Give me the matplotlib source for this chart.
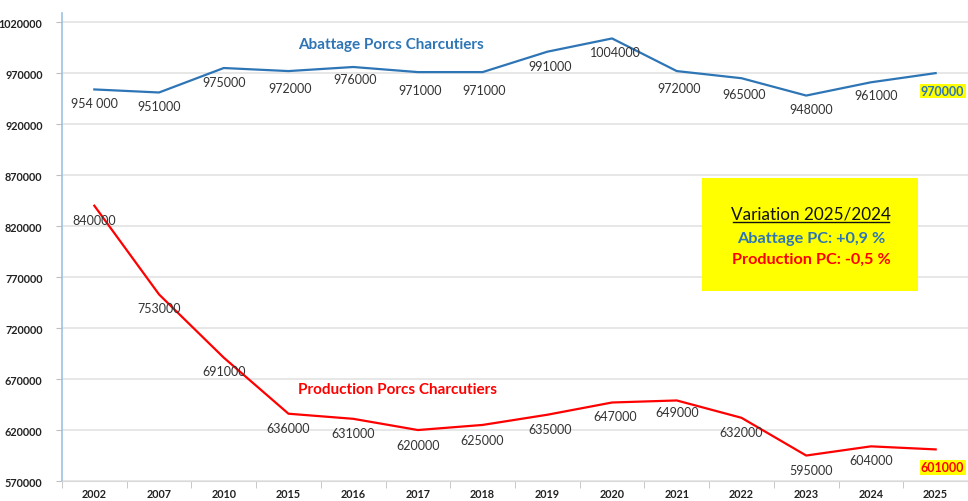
import matplotlib
matplotlib.use("Agg")
import matplotlib.pyplot as plt
import numpy as np

years = ["2002", "2007", "2010", "2015", "2016", "2017", "2018", "2019", "2020",
         "2021", "2022", "2023", "2024", "2025"]
abattage = [954000, 951000, 975000, 972000, 976000, 971000, 971000, 991000, 1004000,
            972000, 965000, 948000, 961000, 970000]
abattage_labels = ["954 000", "951000", "975000", "972000", "976000", "971000", "971000",
                   "991000", "1004000", "972000", "965000", "948000", "961000", "970000"]
production = [840000, 753000, 691000, 636000, 631000, 620000, 625000, 635000, 647000,
              649000, 632000, 595000, 604000, 601000]
yticks = list(range(570000, 1020001, 50000))

BLUE = "#2E75B6"
RED = "#FF0000"
plt.rcParams['font.family'] = ['Lato', 'DejaVu Sans']

fig = plt.figure(figsize=(9.68, 5.02), dpi=100)
ax = fig.add_axes([0.064, 0.0398, 0.936, 0.932])
x = np.arange(len(years))

ax.plot(x, abattage, color=BLUE, lw=1.6)
ax.plot(x, production, color=RED, lw=1.6)

ax.set_xlim(-0.5, len(years) - 0.5)
ax.set_ylim(570000, 1028800)
ax.set_yticks(yticks)
ax.set_yticklabels([str(v) for v in yticks], fontsize=7.8, fontweight='bold', color='#222222')
ax.set_xticks(x)
ax.set_xticklabels(years, fontsize=7.8, fontweight='bold', color='#222222')
ax.tick_params(axis='x', which='major', length=0, pad=5)
ax.set_xticks(np.arange(-0.5, len(years), 1), minor=True)
ax.tick_params(axis='x', which='minor', length=5, color='#BFBFBF', direction='out')
ax.tick_params(axis='y', length=4, color='#BFBFBF', pad=10)
ax.grid(axis='y', color='#E3E3E3', lw=1.2)
ax.set_axisbelow(True)
for s in ['top', 'right']:
    ax.spines[s].set_visible(False)
ax.spines['left'].set_color('#9DC3E0')
ax.spines['left'].set_linewidth(1.2)
ax.spines['bottom'].set_color('#D9D9D9')

# data labels: offsets in pixels
ab_off = [(0, -14), (0, -14), (0, -14), (2, -17), (2, -12), (2, -18), (2, -18),
          (3, -14), (3, -14), (2, -17), (3, -16), (5, -13), (5, -13), (7, -18)]
for i, (v, lab) in enumerate(zip(abattage, abattage_labels)):
    dx, dy = ab_off[i]
    if i == len(years) - 1:
        ax.annotate(lab, (x[i], v), xytext=(dx, dy), textcoords='offset pixels',
                    ha='center', va='center', fontsize=9, fontweight='bold', color=BLUE,
                    bbox=dict(boxstyle='square,pad=0.1', fc='#FFFF00', ec='none'))
    else:
        ax.annotate(lab, (x[i], v), xytext=(dx, dy), textcoords='offset pixels',
                    ha='center', va='center', fontsize=9, color='#333333')

pr_off = [(0, -14), (0, -14), (0, -13), (0, -14), (0, -14), (0, -15), (0, -15),
          (3, -14), (3, -14), (0, -12), (0, -14), (5, -14), (0, -14), (7, -18)]
for i, v in enumerate(production):
    dx, dy = pr_off[i]
    if i == len(years) - 1:
        ax.annotate(str(v), (x[i], v), xytext=(dx, dy), textcoords='offset pixels',
                    ha='center', va='center', fontsize=9, fontweight='bold', color=RED,
                    bbox=dict(boxstyle='square,pad=0.1', fc='#FFFF00', ec='none'))
    else:
        ax.annotate(str(v), (x[i], v), xytext=(dx, dy), textcoords='offset pixels',
                    ha='center', va='center', fontsize=9, color='#333333')

# series titles
fig.text(391 / 968, 1 - 45 / 502, "Abattage Porcs Charcutiers", ha='center', va='center',
         fontsize=11, fontweight='bold', color=BLUE)
fig.text(397 / 968, 1 - 390 / 502, "Production Porcs Charcutiers", ha='center', va='center',
         fontsize=11, fontweight='bold', color=RED)

# yellow box
box = plt.Rectangle((702 / 968, 1 - 292 / 502), 216 / 968, 113 / 502,
                    transform=fig.transFigure, fc='#FFFF00', ec='none', zorder=5)
fig.add_artist(box)
fig.text(811 / 968, 1 - 214 / 502, "Variation 2025/2024", ha='center', va='center',
         fontsize=12.3, color='#111111', zorder=6)
fig.add_artist(plt.Line2D([733 / 968, 889 / 968], [1 - 223 / 502, 1 - 223 / 502],
                          transform=fig.transFigure, color='#111111', lw=1, zorder=6))
fig.text(811 / 968, 1 - 239 / 502, "Abattage PC: +0,9 %", ha='center', va='center',
         fontsize=11.7, fontweight='bold', color=BLUE, zorder=6)
fig.text(811 / 968, 1 - 260 / 502, "Production PC: -0,5 %", ha='center', va='center',
         fontsize=11.7, fontweight='bold', color=RED, zorder=6)

fig.savefig("out.png", dpi=100)
